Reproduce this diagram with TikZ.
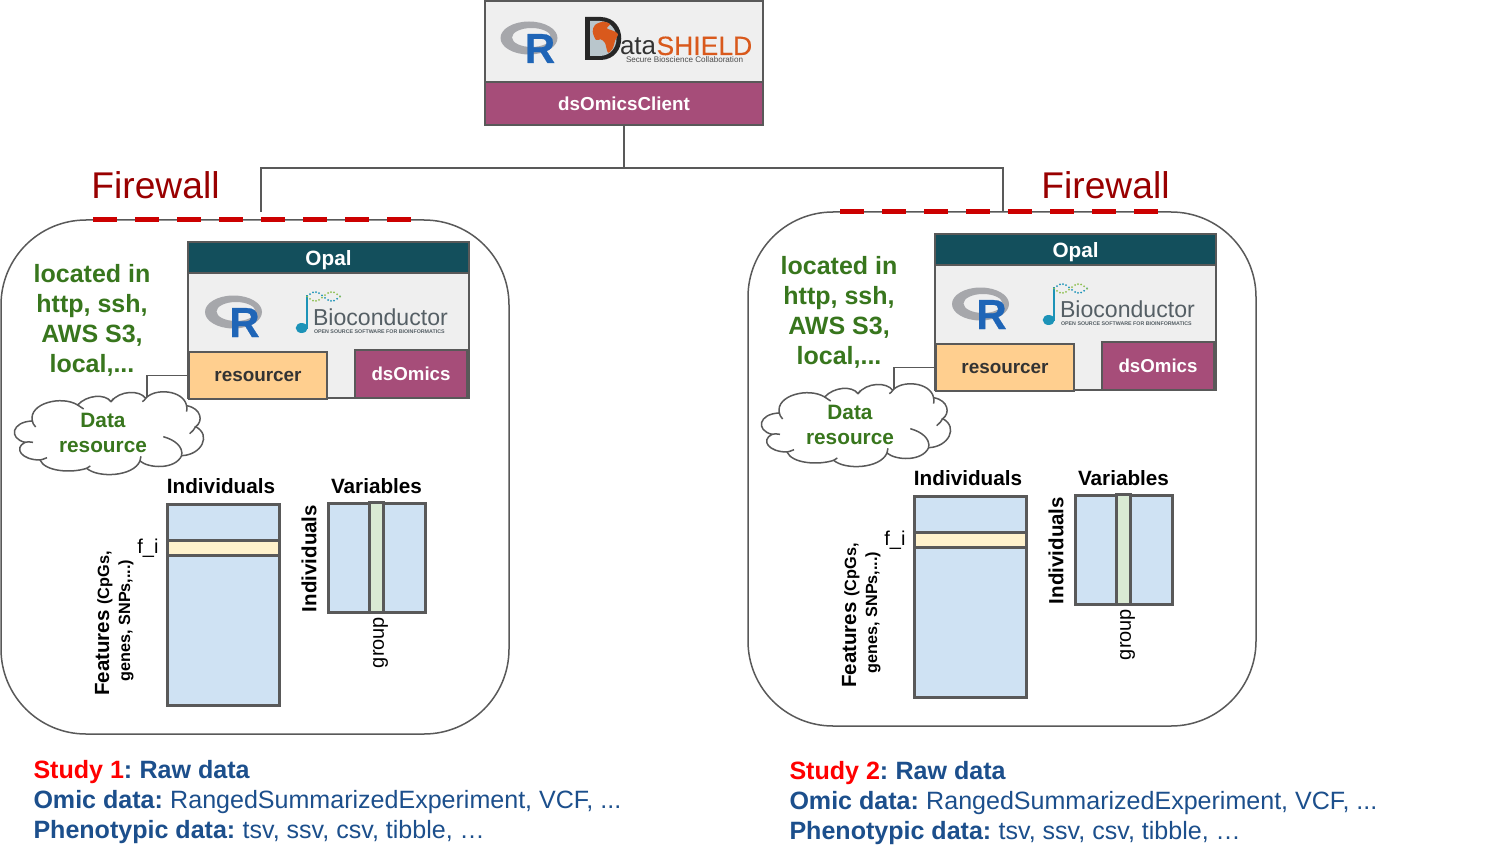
\documentclass[tikz,border=0pt]{standalone}
\usepackage{fontspec}
\setmainfont{Liberation Sans}
\newfontfamily\dsfont[FakeBold=0.25]{Liberation Sans}
\newfontfamily\rfont[FakeBold=0.6]{Liberation Sans Bold}
\definecolor{edge}{HTML}{595959}
\definecolor{plum}{HTML}{A64D79}
\definecolor{deepteal}{HTML}{134F5C}
\definecolor{panel}{HTML}{EFEFEF}
\definecolor{peach}{HTML}{FFCF8F}
\definecolor{matblue}{HTML}{CFE2F3}
\definecolor{cream}{HTML}{FFF2CC}
\definecolor{palegreen}{HTML}{D9EAD3}
\definecolor{leaf}{HTML}{38761D}
\definecolor{navytext}{HTML}{1C4F8C}
\definecolor{fwred}{HTML}{990000}
\definecolor{dashred}{HTML}{CC0000}
\definecolor{rblue}{HTML}{1F65B7}
\definecolor{rgray}{HTML}{A6A7AB}
\definecolor{dsorange}{HTML}{D9591C}
\definecolor{biotxt}{HTML}{555F65}
\definecolor{bioteal}{HTML}{1C93B8}
\definecolor{biogreen}{HTML}{8DBF4F}
\definecolor{mapbg}{HTML}{B9C6CC}
\newcommand\fs[2]{\fontsize{#1}{#2}\selectfont}
\tikzset{
  x=1pt,y=-1pt,
  plain/.style={inner sep=0pt,outer sep=0pt,align=center},
  boxed/.style={plain,draw=edge,line width=2pt},
  thick box/.style={plain,draw=edge,line width=3pt},
  conn/.style={draw=edge,line width=1.5pt},
  firewall/.style={plain,text=fwred,font=\fs{37.2}{42}},
  fwdash/.style={draw=dashred,line width=5pt,dash pattern=on 24pt off 18pt},
  infotext/.style={plain,anchor=base west,text=navytext,font=\fs{25.05}{30}},
  cloudline/.style={draw=edge,line width=1.5pt},
}
% name, x1, y1, x2, y2, style, text
\newcommand\bx[7]{%
  \pgfmathsetmacro\bxw{#4-#2}\pgfmathsetmacro\bxh{#5-#3}%
  \node[#6,minimum width=\bxw pt,minimum height=\bxh pt] (#1) at ({(#2+#4)/2},{(#3+#5)/2}) {#7};%
}
\newcommand\Rlogo[2]{%
  \begin{scope}[shift={(#1,#2)}]
    \fill[rgray,even odd rule] (0,0) ellipse [x radius=28.5,y radius=16.5] (2.5,-0.5) ellipse [x radius=19.5,y radius=9.5];
    \node[plain,anchor=base,text=rblue,font=\rfont\fs{42}{43}] at (11,25) {R};
  \end{scope}}
\newcommand\studyblock[3]{%
\begin{scope}[shift={(#2,#3)},name prefix=#1-]
  \bx{box}{1}{220}{509}{734}{plain,draw=edge,line width=1.5pt,rounded corners=85pt,fill=white}{}
  \draw[fwdash] (93,220) -- (411,220);
  \node[plain,text=leaf,font=\bfseries\fs{25}{30}] (loc) at (92,320) {located in\\http, ssh,\\AWS S3,\\local,...};
  % Opal
  \bx{opal}{188}{272}{469}{398}{boxed,fill=panel}{}
  \bx{opaltitle}{188}{242}{469}{273}{boxed,fill=deepteal,text=white,font=\bfseries\fs{20.7}{24}}{\raisebox{-7.5pt}[0pt][0pt]{Opal}}
  \Rlogo{233.5}{312}
  \fill[bioteal] (306,295) rectangle (307.5,329);
  \fill[bioteal] (301.7,328) ellipse [x radius=6,y radius=5];
  \foreach \u in {0,3,...,33} {
    \fill[bioteal] ({307+\u},{296.5-4.5*sin(\u*11)}) circle (1);
    \fill[biogreen] ({307+\u},{296.5+4.5*sin(\u*11)}) circle (1);
  }
  \node[plain,anchor=base west,text=biotxt,font=\fs{23.1}{24}] (bio) at (313,325) {Bioconductor};
  \node[plain,anchor=base west,text=biotxt,font=\bfseries\fs{5.3}{6}] (biosub) at (314,333.5) {OPEN SOURCE SOFTWARE FOR BIOINFORMATICS};
  \bx{res}{189}{352}{327}{399}{boxed,fill=peach,text=black!80,font=\bfseries\fs{18.9}{22}}{\raisebox{-6pt}[0pt][0pt]{resourcer}}
  \bx{omics}{355}{350}{467}{398}{boxed,fill=plum,text=white,font=\bfseries\fs{18.7}{22}}{dsOmics}
  % cloud
  \begin{scope}[shift={(5,385)},x=0.3333pt,y=-0.3333pt]
    \path[cloudline,fill=white] (82,108)
      .. controls (70,55) and (170,30) .. (218,60)
      .. controls (245,30) and (300,25) .. (318,50)
      .. controls (345,15) and (405,15) .. (422,40)
      .. controls (450,8) and (535,15) .. (545,62)
      .. controls (590,70) and (595,110) .. (572,125)
      .. controls (620,150) and (590,210) .. (530,212)
      .. controls (510,255) and (430,250) .. (405,228)
      .. controls (385,275) and (280,280) .. (245,250)
      .. controls (200,265) and (120,260) .. (105,225)
      .. controls (50,225) and (25,190) .. (60,172)
      .. controls (10,160) and (20,110) .. (82,108) -- cycle;
    \draw[cloudline] (82,108) .. controls (83,114) and (86,120) .. (92,126);
    \draw[cloudline] (60,172) .. controls (66,170) and (74,170) .. (84,172);
    \draw[cloudline] (105,225) .. controls (110,224) and (118,222) .. (126,218);
    \draw[cloudline] (475,155) .. controls (510,165) and (535,185) .. (530,212);
    \draw[cloudline] (572,125) .. controls (568,133) and (562,140) .. (554,146);
    \draw[cloudline] (545,62) .. controls (546,68) and (546,74) .. (545,80);
    \draw[cloudline] (422,40) .. controls (420,44) and (416,48) .. (412,50);
    \draw[cloudline] (318,50) .. controls (320,46) and (323,43) .. (326,40);
    \draw[cloudline] (218,60) .. controls (224,64) and (230,68) .. (236,72);
    \draw[cloudline] (405,228) .. controls (406,222) and (407,218) .. (408,214);
    \draw[cloudline] (245,250) .. controls (248,248) and (252,246) .. (256,243);
  \end{scope}
  \node[plain,text=leaf,font=\bfseries\fs{20.8}{25}] (cloudtxt) at (103,432.5) {Data\\resource};
  \coordinate (cloudtop) at (147,397);
  \draw[conn] (res.west) -| (cloudtop);
  % matrices
  \node[plain,font=\bfseries\fs{20.7}{24}] (ind) at (221,486) {Individuals};
  \node[plain,font=\bfseries\fs{20.7}{24}] (var) at (376.5,486) {Variables};
  \bx{m1}{167}{504}{279.5}{705}{thick box,fill=matblue}{}
  \bx{m1s}{167}{540}{279.5}{555}{thick box,fill=cream}{}
  \bx{m2}{328.5}{503}{425.5}{612}{thick box,fill=matblue}{}
  \bx{m2s}{369}{502}{383.5}{612}{thick box,fill=palegreen}{}
  \node[plain,anchor=base east,font=\fs{20}{24}] (fi) at (158.5,553) {f\_i};
  \node[plain,rotate=90,font=\bfseries\fs{20.5}{24}] (indrot) at (309,558.5) {Individuals};
  \node[plain,rotate=90,font=\fs{20}{24}] (grp) at (380.5,642.5) {group};
  \node[plain,rotate=90,anchor=base,font=\bfseries] (feat) at (109,623.5) {\fs{20.5}{24}Features \fs{16.3}{20}(CpGs,};
  \node[plain,rotate=90,anchor=base,font=\bfseries\fs{16.2}{20}] (feat2) at (130,620.5) {genes, SNPs,...)};
\end{scope}}
\begin{document}
\begin{tikzpicture}
\useasboundingbox (0,0) rectangle (1488,861);
\fill[white] (0,0) rectangle (1488,861);
% client
\bx{client}{485}{1}{763}{82}{boxed,fill=panel}{}
\bx{clientname}{485}{82}{763}{125}{boxed,fill=plum,text=white,font=\bfseries\fs{18.8}{22}}{dsOmicsClient}
\Rlogo{529}{38}
\fill[black!85] (585,17) -- (601,17) .. controls (628,18) and (628,59) .. (601,60) -- (585,60) -- cycle;
\fill[mapbg] (590,21) -- (600,21) .. controls (622,22) and (622,55) .. (600,56) -- (590,56) -- cycle;
\fill[dsorange] plot[smooth cycle,tension=0.5] coordinates {(592.7,31.7) (595,25) (603,21.7) (610,24) (607,28.3) (613,30.7) (618,34) (615,40.7) (613,48) (608,52.7) (605,43) (600.7,39.3) (596,40)};
\node[plain,anchor=base west,text=black!80,font=\fs{26}{28}] (ata) at (620,55) {ata};
\node[plain,anchor=base west,text=dsorange,font=\dsfont\fs{26.5}{28}] (shield) at (656.5,55) {SHIELD};
\node[plain,anchor=base west,text=black!70,font=\fs{8.1}{9}] (secure) at (626,62.5) {Secure Bioscience Collaboration};
% studies
\studyblock{L}{0}{0}
\studyblock{R}{747}{-8}
% connectors
\coordinate (J) at (clientname.south |- 0,168);
\coordinate (Lend) at (261,212);
\coordinate (Rend) at (1003,212);
\draw[conn] (clientname.south) -- (J);
\draw[conn] (Lend) |- (Rend |- J) -- (Rend);
\node[firewall] (fwL) at (155.5,185) {Firewall};
\node[firewall] (fwR) at (1105.5,185) {Firewall};
% captions
\node[infotext] (s1a) at (33.5,778) {\bfseries\textcolor{red}{Study 1}:\hspace{-2pt} Raw data};
\node[infotext] (s1b) at (33.5,808) {\textbf{Omic data:}\hspace{-2pt} RangedSummarizedExperiment, VCF, ...};
\node[infotext] (s1c) at (33.5,838) {\textbf{Phenotypic data:}\hspace{-2pt} tsv, ssv, csv, tibble, …};
\node[infotext] (s2a) at (789.5,779) {\bfseries\textcolor{red}{Study 2}:\hspace{-2pt} Raw data};
\node[infotext] (s2b) at (789.5,809) {\textbf{Omic data:}\hspace{-2pt} RangedSummarizedExperiment, VCF, ...};
\node[infotext] (s2c) at (789.5,839) {\textbf{Phenotypic data:}\hspace{-2pt} tsv, ssv, csv, tibble, …};
\end{tikzpicture}
\end{document}
